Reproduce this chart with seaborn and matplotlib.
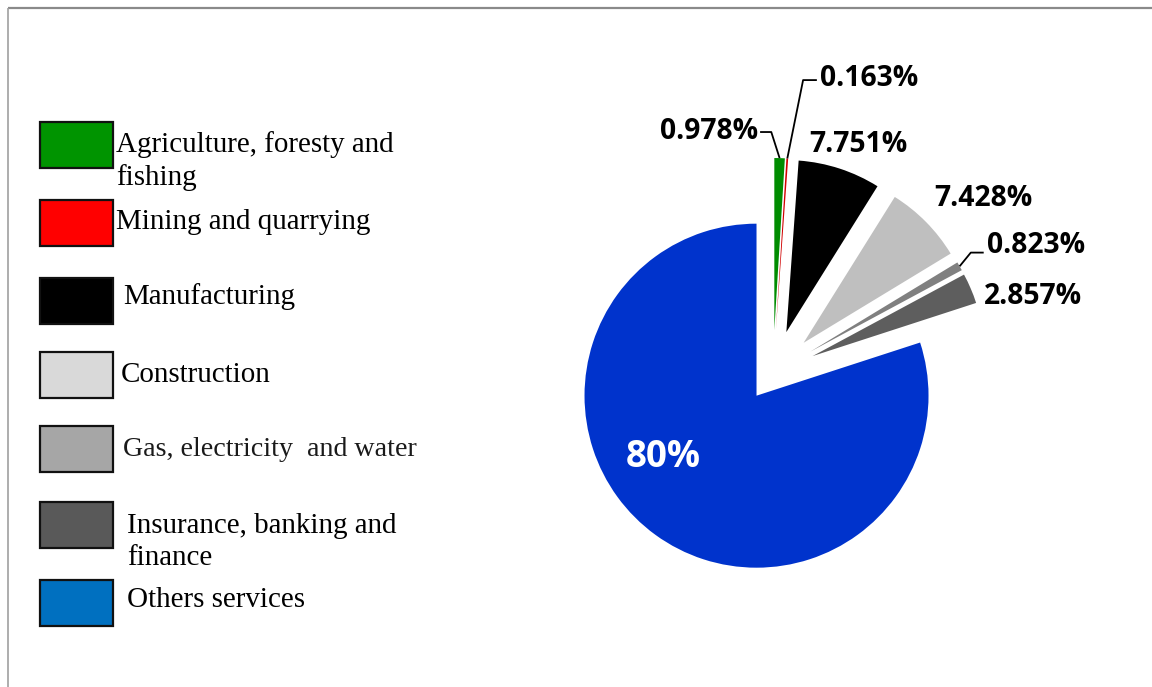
import numpy as np
import matplotlib
matplotlib.use("Agg")
import matplotlib.pyplot as plt
import seaborn as sns
from matplotlib.patches import Rectangle

# ---------------- data ----------------
sectors = ["Agriculture, foresty and\nfishing", "Mining and quarrying", "Manufacturing",
           "Construction", "Gas, electricity  and water",
           "Insurance, banking and\nfinance", "Others services"]
shares = [0.978, 0.163, 7.751, 7.428, 0.823, 2.857, 80.0]
share_labels = ["0.978%", "0.163%", "7.751%", "7.428%", "0.823%", "2.857%", "80%"]
slice_colors = ["#008C00", "#D00000", "#000000", "#BFBFBF", "#808080", "#5E5E5E", "#0033CC"]
legend_colors = ["#009400", "#FF0000", "#000000", "#D9D9D9", "#A6A6A6", "#595959", "#0070C0"]

# ---------------- style ----------------
sns.set_theme(style="white")
plt.rcParams['font.family'] = ['DejaVu Sans']

W, H = 1152, 687
fig = plt.figure(figsize=(W / 100, H / 100), dpi=100)
fig.patch.set_facecolor("white")

# overlay axes in pixel units (for legend and frame)
ov = fig.add_axes([0, 0, 1, 1], zorder=0)
ov.set_xlim(0, W)
ov.set_ylim(H, 0)
ov.axis("off")
ov.patch.set_alpha(0)

# frame lines (top and left)
ov.plot([8, W], [7.5, 7.5], color="#8A8A8A", lw=1.6, solid_capstyle="butt")
ov.plot([8, 8], [7.5, H], color="#A0A0A0", lw=1.2, solid_capstyle="butt")

# hand-placed legend
box_tops = [122, 200, 278, 352, 426, 502, 580]
text_x = [116, 116, 123, 121, 123, 127, 127]
text_y = [161, 222, 297, 375, 449, 542, 600]
text_size = [20.9, 20.9, 20.9, 20.9, 20.2, 20.9, 20.9]
serif = ["Liberation Serif", "DejaVu Serif"]
for i, (name, col) in enumerate(zip(sectors, legend_colors)):
    ov.add_patch(Rectangle((40, box_tops[i]), 73, 46, facecolor=col,
                           edgecolor="#111111", lw=1.6))
    ov.text(text_x[i], text_y[i], name, family=serif, fontsize=text_size[i],
            color="#1a1a1a" if i == 4 else "black",
            ha="left", va="center", linespacing=1.32)

# ---------------- pie ----------------
R = 172
cx, cy = 773, 373
ax = fig.add_axes([(cx - 1.5 * R) / W, (H - cy - 1.5 * R) / H, 3 * R / W, 3 * R / H], zorder=2)
explode = [0.25] * 6 + [0.163]
wedges, _ = ax.pie(shares, colors=slice_colors, startangle=90, counterclock=False,
                   explode=explode, radius=1, wedgeprops=dict(linewidth=0))
ax.set_xlim(-1.5, 1.5)
ax.set_ylim(-1.5, 1.5)
ax.set_aspect("equal")
ax.axis("off")

bold = dict(family=["Open Sans", "DejaVu Sans"], fontweight="bold", fontsize=20.3, color="black")

def tip(w):
    t = np.deg2rad((w.theta1 + w.theta2) / 2)
    return w.center[0] + w.r * np.cos(t), w.center[1] + w.r * np.sin(t)

# label positions (pie units) and optional leader elbows
lab_pos = [(-0.085, 1.405), (0.275, 1.71), (0.494, 1.326), (1.221, 1.017),
           (1.245, 0.744), (1.512, 0.442)]
lab_ha = ["right", "left", "center", "center", "left", "center"]
elbows = {0: (-0.01, 1.401), 1: (0.175, 1.703), 4: (1.15, 0.70)}

for i in range(6):
    x, y = lab_pos[i]
    ax.text(x, y, share_labels[i], ha=lab_ha[i], va="center", **bold)
    if i in elbows:
        tx, ty = tip(wedges[i])
        ex, ey = elbows[i]
        sx = x + (0.01 if lab_ha[i] == "right" else -0.02)
        ax.plot([sx, ex, tx], [ey, ey, ty], color="black", lw=1.3,
                solid_capstyle="butt", clip_on=False)

ax.text(-0.64, -0.49, share_labels[6], ha="center", va="center",
        family=["Open Sans", "DejaVu Sans"], fontweight="bold", fontsize=26.5, color="white")

fig.savefig("out.png", dpi=100, facecolor="white")
